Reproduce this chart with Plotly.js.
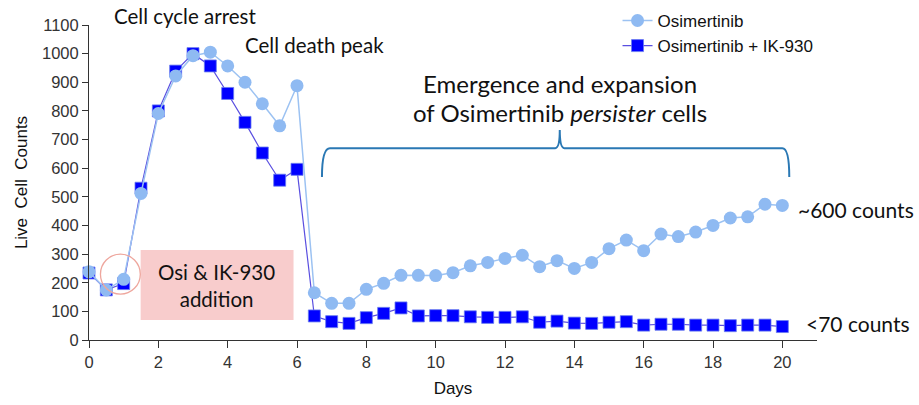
<!DOCTYPE html>
<html>
<head>
<meta charset="utf-8">
<script src="https://cdn.plot.ly/plotly-3.0.1.min.js"></script>
<style>html,body{margin:0;padding:0;background:#fff;}#chart{width:919px;height:405px;}</style>
</head>
<body>
<div id="chart"></div>
<script>
// ---- data ----
const days = [0,0.5,1,1.5,2,2.5,3,3.5,4,4.5,5,5.5,6,6.5,7,7.5,8,8.5,9,9.5,10,10.5,11,11.5,12,12.5,13,13.5,14,14.5,15,15.5,16,16.5,17,17.5,18,18.5,19,19.5,20];
const osimertinib = [238,175,212,512,791,922,993,1005,957,900,825,748,888,165,128,128,177,198,226,226,225,235,259,271,285,296,256,277,250,271,319,349,312,370,361,377,400,426,430,474,470];
const osiIK930 = [234,175,197,530,800,939,1000,957,861,760,653,558,596,84,64,58,78,93,112,84,85,85,81,79,79,81,62,66,59,58,62,64,52,55,55,52,52,50,52,52,47];
const xTicks = [0,2,4,6,8,10,12,14,16,18,20];
const yTicks = [0,100,200,300,400,500,600,700,800,900,1000,1100];
const seriesNames = ['Osimertinib', 'Osimertinib + IK-930'];

const annFont = 'Lato, "Open Sans", sans-serif';
const traces = [
  {x: days, y: osiIK930, name: seriesNames[1], type: 'scatter', mode: 'lines+markers',
   line: {color: '#5a4fe0', width: 1.2},
   marker: {symbol: 'square', size: 12, color: '#0000ff', line: {color: '#6a7cf0', width: 0.8}},
   cliponaxis: false},
  {x: days, y: osimertinib, name: seriesNames[0], type: 'scatter', mode: 'lines+markers',
   line: {color: '#9cc2f2', width: 1.5},
   marker: {symbol: 'circle', size: 13, color: '#8fbaf2'},
   cliponaxis: false}
];

const layout = {
  width: 919, height: 405,
  margin: {l: 89, r: 102, t: 25, b: 65, autoexpand: false},
  paper_bgcolor: '#ffffff', plot_bgcolor: '#ffffff',
  font: {family: 'Arial, "Liberation Sans", sans-serif', color: '#000'},
  showlegend: true,
  legend: {x: 0.726, y: 1.07, xanchor: 'left', yanchor: 'top', traceorder: 'reversed',
           font: {size: 17, color: '#111'}, bgcolor: 'rgba(0,0,0,0)', itemwidth: 30},
  xaxis: {range: [0, 21], tickmode: 'array', tickvals: xTicks, ticks: 'outside', ticklen: 7,
          tickcolor: '#333', showline: true, linecolor: '#333', linewidth: 1, showgrid: false,
          zeroline: false, tickfont: {size: 16.5, color: '#333'},
          title: {text: 'Days', font: {size: 17, color: '#111'}, standoff: 12}},
  yaxis: {range: [0, 1100], tickmode: 'array', tickvals: yTicks, ticks: 'outside', ticklen: 6,
          tickcolor: '#333', showline: true, linecolor: '#333', linewidth: 1, showgrid: false,
          zeroline: false, tickfont: {size: 16.5, color: '#333'},
          title: {text: 'Live  Cell  Counts', font: {size: 17, color: '#111'}, standoff: 10}},
  shapes: [
    {type: 'rect', xref: 'x', yref: 'y', x0: 1.49, x1: 5.9, y0: 70, y1: 314,
     fillcolor: '#f8cccc', line: {width: 0}, layer: 'below'},
    {type: 'circle', xref: 'x', yref: 'y', x0: 0.33, x1: 1.48, y0: 160, y1: 300,
     line: {color: '#eea69d', width: 1.3}, fillcolor: 'rgba(0,0,0,0)'},
    {type: 'path', xref: 'x', yref: 'y',
     path: 'M 6.72 569 Q 6.72 670 6.95 670 L 13.45 670 Q 13.58 670 13.58 733 Q 13.58 670 13.71 670 L 20.0 670 Q 20.2 670 20.2 569',
     line: {color: '#2a78b4', width: 2}}
  ],
  annotations: [
    {text: 'Cell cycle arrest', x: 0.031, y: 1.027, xref: 'paper', yref: 'paper', xanchor: 'left', yanchor: 'middle',
     showarrow: false, font: {family: annFont, size: 20.5, color: '#111'}},
    {text: 'Cell death peak', x: 4.44, y: 1030, xref: 'x', yref: 'y', xanchor: 'left', yanchor: 'middle',
     showarrow: false, font: {family: annFont, size: 20.5, color: '#111'}},
    {text: 'Emergence and expansion', x: 13.58, y: 897, xref: 'x', yref: 'y', xanchor: 'center', yanchor: 'middle',
     showarrow: false, font: {family: annFont, size: 24, color: '#111'}},
    {text: 'of Osimertinib <i>persister</i> cells', x: 13.58, y: 793, xref: 'x', yref: 'y', xanchor: 'center', yanchor: 'middle',
     showarrow: false, font: {family: annFont, size: 24, color: '#111'}},
    {text: 'Osi &amp; IK-930<br>addition', x: 3.69, y: 192, xref: 'x', yref: 'y', xanchor: 'center', yanchor: 'middle',
     showarrow: false, font: {family: annFont, size: 20.5, color: '#111'}},
    {text: '~600 counts', x: 20.4, y: 454, xref: 'x', yref: 'y', xanchor: 'left', yanchor: 'middle',
     showarrow: false, font: {family: annFont, size: 21, color: '#111'}},
    {text: '&lt;70 counts', x: 20.62, y: 58, xref: 'x', yref: 'y', xanchor: 'left', yanchor: 'middle',
     showarrow: false, font: {family: annFont, size: 21, color: '#111'}}
  ]
};

Plotly.newPlot('chart', traces, layout, {displayModeBar: false, staticPlot: true});
</script>
</body>
</html>
